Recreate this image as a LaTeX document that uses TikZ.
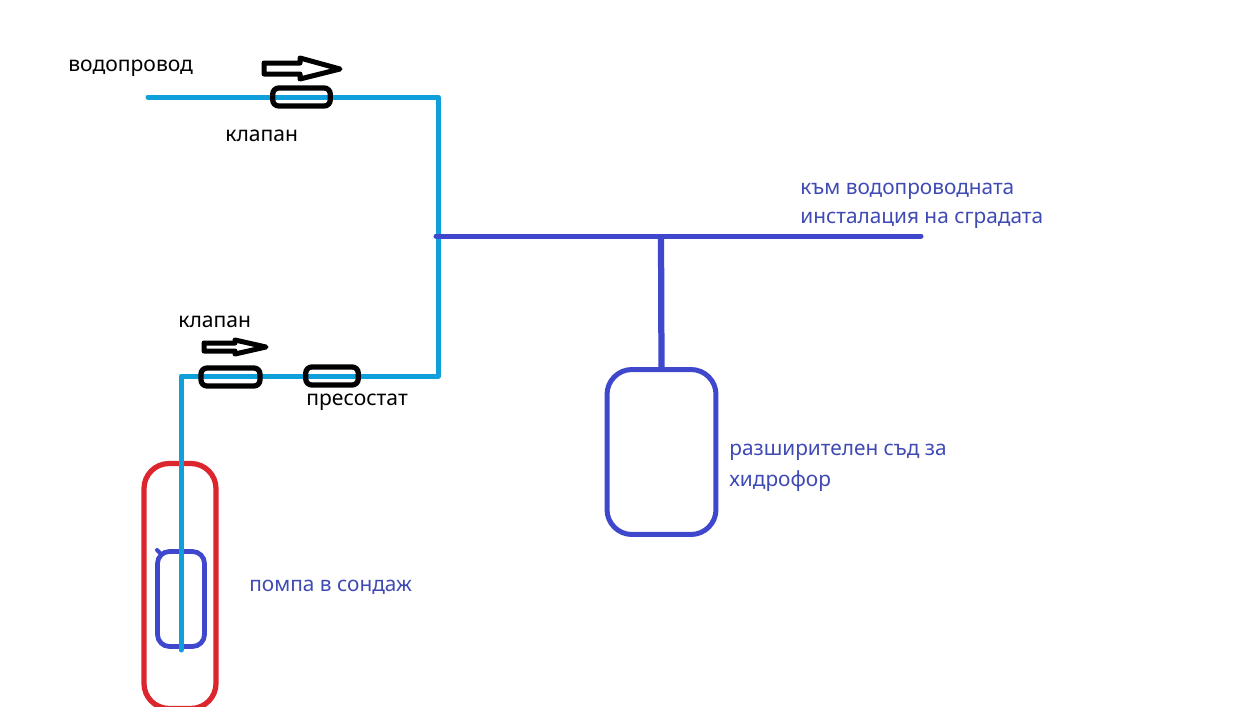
\documentclass[tikz,border=0pt]{standalone}
\usepackage{fontspec}
\setmainfont{Noto Sans}
\definecolor{pipecyan}{HTML}{0FA0DC}
\definecolor{pipeblue}{HTML}{3F48CC}
\definecolor{textblue}{HTML}{3F4AB4}
\definecolor{casingred}{HTML}{DB262E}
\tikzset{
  pipe/.style={line width=1mm, line cap=round, line join=round},
  valve/.style={draw=black, line width=1.05mm, rounded corners=1.2mm, inner sep=0pt, minimum height=0.36cm},
  flowarrow/.style={draw=black, line width=1mm, line join=round},
  bluelabel/.style={text=textblue, anchor=west, inner sep=0pt, font=\fontsize{11.85}{16.5}\selectfont},
  blacklabel/.style={text=black, anchor=west, inner sep=0pt, font=\fontsize{12}{16.5}\selectfont}
}
\begin{document}
\begin{tikzpicture}[x=0.02cm, y=-0.02cm]
  \useasboundingbox (0,0) rectangle (1252,707);
  \clip (0,0) rectangle (1252,707);
  % junctions of the pipes
  \coordinate (mainstart) at (148,97);
  \coordinate (maincorner) at (438,97);
  \coordinate (lowcorner) at (438,376);
  \coordinate (pumpcorner) at (181,376);
  \coordinate (pumpend) at (181,650);
  \coordinate (teeleft) at (436,236);
  \coordinate (teedown) at (661,236);
  \coordinate (teeright) at (921,236);
  % casing and pump
  \node[draw=casingred, line width=1.05mm, rounded corners=5mm, inner sep=0pt, minimum width=1.44cm, minimum height=4.9cm] (casing) at (180,586) {};
  \node[draw=pipeblue, line width=0.95mm, rounded corners=2.4mm, inner sep=0pt, minimum width=0.94cm, minimum height=1.9cm] (pump) at (181,599) {};
  \coordinate (pumpnib) at (157,550);
  \draw[pipe, pipeblue, line width=0.8mm] (pumpnib) -- (161,554);
  % cyan pipes
  \draw[pipe, pipecyan] (mainstart) -- (maincorner) -- (lowcorner) -- (pumpcorner) -- (pumpend);
  % tank and blue pipes
  \node[draw=pipeblue, line width=1mm, rounded corners=5mm, inner sep=0pt, minimum width=2.18cm, minimum height=3.3cm] (tank) at (661.5,452) {};
  \draw[pipe, pipeblue] (teeleft) -- (teeright);
  \draw[pipe, pipeblue, line width=1.25mm, line cap=butt] (teedown) -- (tank.north);
  % valves
  \node[valve, minimum width=1.15cm] (valvetop) at (301.5,97) {};
  \node[valve, minimum width=1.18cm] (valvelow) at (230.5,377) {};
  \node[valve, minimum width=1.05cm] (switch) at (332,376) {};
  % flow arrows
  \draw[flowarrow] (264,63) -- (300,63) -- (300,58) -- (340,69) -- (300,79) -- (300,74) -- (264,74) -- cycle;
  \draw[flowarrow] (204,343) -- (235,343) -- (235,340) -- (266,347) -- (235,354) -- (235,351) -- (204,351) -- cycle;
  % labels
  \node[blacklabel] (lblsupply) at (68,68) {водопровод};
  \node[blacklabel] (lblvalvetop) at (225,136) {клапан};
  \node[blacklabel] (lblvalvelow) at (178,322) {клапан};
  \node[blacklabel] (lblswitch) at (306,402) {пресостат};
  \node[bluelabel] (lblbuild1) at (800,191) {към водопроводната};
  \node[bluelabel] (lblbuild2) at (800,220) {инсталация на сградата};
  \node[bluelabel] (lbltank1) at (729,452) {разширителен съд за};
  \node[bluelabel] (lbltank2) at (729,481) {хидрофор};
  \node[bluelabel] (lblpump) at (249,587) {помпа в сондаж};
\end{tikzpicture}
\end{document}
